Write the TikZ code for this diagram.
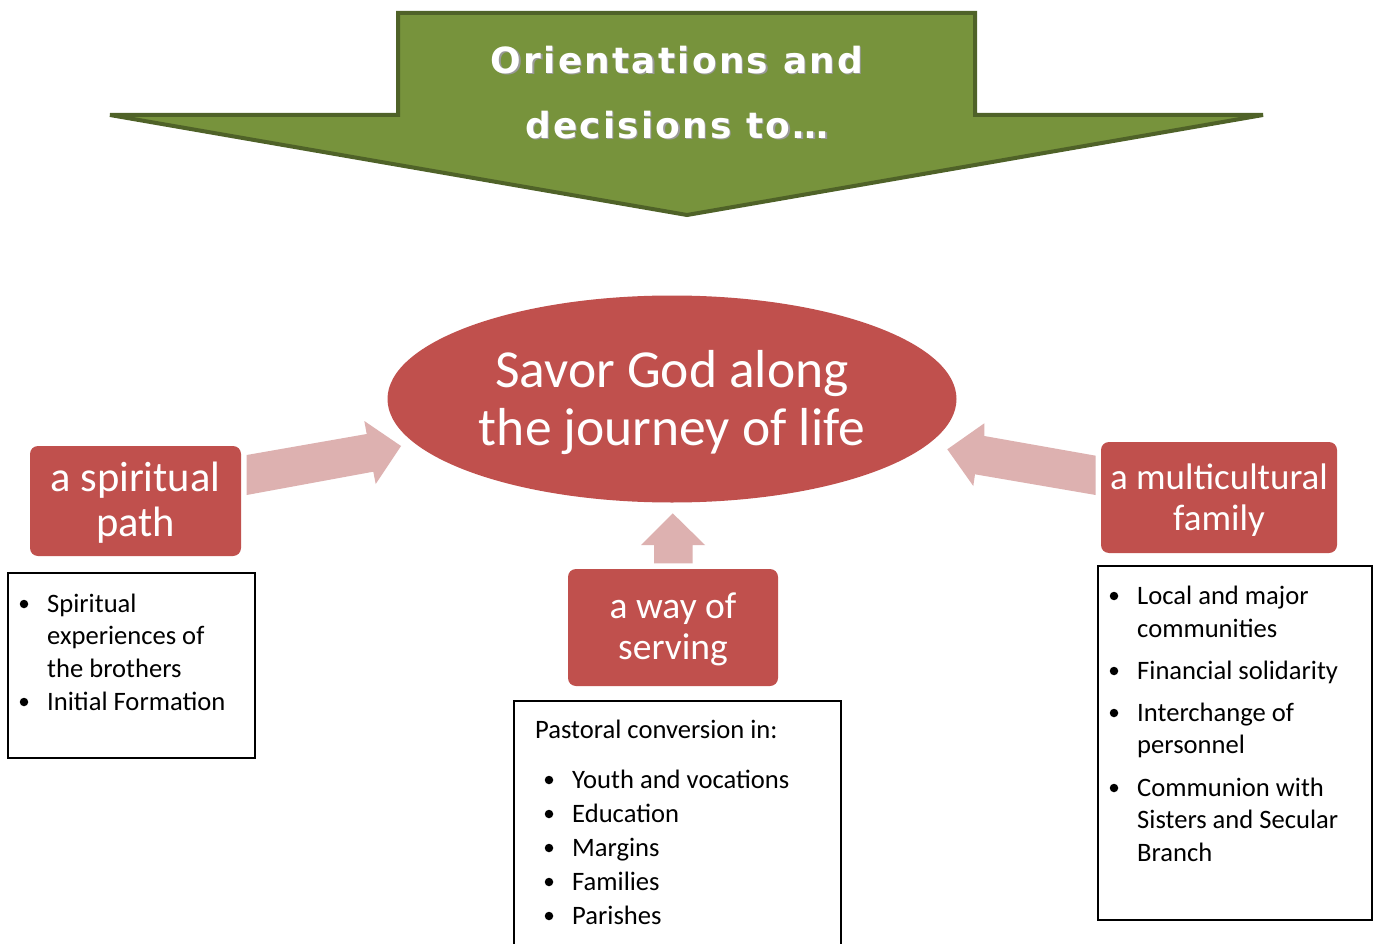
\documentclass[tikz,border=0pt]{standalone}
\usepackage{fontspec}
\setmainfont{Carlito}
\newfontfamily\titlefont[LetterSpace=6]{DejaVu Sans}
\usetikzlibrary{shapes.geometric}
\definecolor{grfill}{HTML}{77933C}
\definecolor{grline}{HTML}{4F6228}
\definecolor{myred}{HTML}{C0504D}
\definecolor{mypink}{HTML}{DDB1B0}
\tikzset{
  redbox/.style={fill=myred, rounded corners=8pt, inner sep=0pt},
  wtxt/.style={text=white, align=center, inner sep=0pt},
  listbox/.style={draw=black, line width=1.3pt, inner sep=0pt},
  ltxt/.style={anchor=base west, inner sep=0pt, font=\fontsize{26.6}{32}\selectfont},
  bdot/.style={circle, fill=black, minimum size=8.5pt, inner sep=0pt},
  pinkarrow/.style={fill=mypink, draw=none},
  ttl/.style={inner sep=0pt, font=\titlefont\bfseries\fontsize{36}{40}\selectfont},
}
\begin{document}
\begin{tikzpicture}[x=1pt,y=-1pt]
\clip (0,0) rectangle (1376,944);
\fill[white] (0,0) rectangle (1376,944);

% green banner arrow
\draw[line width=4pt, draw=grline, fill=grfill, line join=miter]
  (398,13) -- (975,13) -- (975,115) -- (1263,115) -- (687,215) -- (110,115) -- (398,115) -- cycle;
\node[ttl, text=black!40] (t1s) at (678.3,61.3) {Orientations and};
\node[ttl, text=black!40] (t2s) at (678.3,126.3) {decisions to…};
\node[ttl, text=white] (t1) at (677,60) {Orientations and};
\node[ttl, text=white] (t2) at (677,125) {decisions to…};

% central ellipse
\node[ellipse, fill=myred, minimum width=569pt, minimum height=207pt, inner sep=0pt] (goal) at (672,399) {};
\node[wtxt, font=\fontsize{53.5}{58}\selectfont] (goaltxt) at (672,402.5)
  {Savor God along\\the journey of life};

% red boxes
\node[redbox, minimum width=211pt, minimum height=110pt] (spir) at (135.5,501) {};
\node[wtxt, font=\fontsize{42.5}{45}\selectfont] (spirtxt) at (135.5,503) {a spiritual\\path};
\node[redbox, minimum width=236pt, minimum height=111pt] (fam) at (1219,497.5) {};
\node[wtxt, font=\fontsize{37}{41}\selectfont] (famtxt) at (1219,500.5) {a multicultural\\family};
\node[redbox, minimum width=210pt, minimum height=117pt] (serv) at (673,627.5) {};
\node[wtxt, font=\fontsize{37.5}{41}\selectfont] (servtxt) at (673,629.5) {a way of\\serving};

% pink block arrows
\fill[pinkarrow] (246.7,455) -- (366.7,434) -- (364.3,421) -- (401,446) -- (375.7,484)
  -- (373.3,471.7) -- (246.7,495) -- cycle;
\fill[pinkarrow] (1095.7,455.7) -- (984.3,436) -- (984.3,423.3) -- (947.3,449.3) -- (973.3,486)
  -- (975,474.3) -- (1095.7,495) -- cycle;
\fill[pinkarrow] (654,563.3) -- (654,545) -- (641,545) -- (672.7,513.3) -- (705,545)
  -- (692.7,545) -- (692.7,563.3) -- cycle;

% list boxes
\node[listbox, minimum width=247pt, minimum height=185pt] (lbox) at (131.5,665.5) {};
\node[listbox, minimum width=327pt, minimum height=270pt] (mbox) at (677.5,836) {};
\node[listbox, minimum width=274pt, minimum height=354pt] (rbox) at (1235,743) {};

% left list
\node[bdot] (lb1) at (24,604) {};
\node[ltxt] (l1) at (47,612) {Spiritual};
\node[ltxt] (l2) at (47,644) {experiences of};
\node[ltxt] (l3) at (47,677) {the brothers};
\node[bdot] (lb2) at (24,702) {};
\node[ltxt] (l4) at (47,710) {Initial Formation};

% middle list
\node[ltxt] (m0) at (535,738) {Pastoral conversion in:};
\node[bdot] (mb1) at (549,780) {};
\node[ltxt] (m1) at (572,788) {Youth and vocations};
\node[bdot] (mb2) at (549,814) {};
\node[ltxt] (m2) at (572,822) {Education};
\node[bdot] (mb3) at (549,848) {};
\node[ltxt] (m3) at (572,856) {Margins};
\node[bdot] (mb4) at (549,882) {};
\node[ltxt] (m4) at (572,890) {Families};
\node[bdot] (mb5) at (549,916) {};
\node[ltxt] (m5) at (572,924) {Parishes};

% right list
\node[bdot] (rb1) at (1114,596) {};
\node[ltxt] (r1) at (1137,604) {Local and major};
\node[ltxt] (r2) at (1137,637) {communities};
\node[bdot] (rb2) at (1114,671) {};
\node[ltxt] (r3) at (1137,679) {Financial solidarity};
\node[bdot] (rb3) at (1114,713) {};
\node[ltxt] (r4) at (1137,721) {Interchange of};
\node[ltxt] (r5) at (1137,753) {personnel};
\node[bdot] (rb4) at (1114,788) {};
\node[ltxt] (r6) at (1137,796) {Communion with};
\node[ltxt] (r7) at (1137,828) {Sisters and Secular};
\node[ltxt] (r8) at (1137,861) {Branch};
\end{tikzpicture}
\end{document}
